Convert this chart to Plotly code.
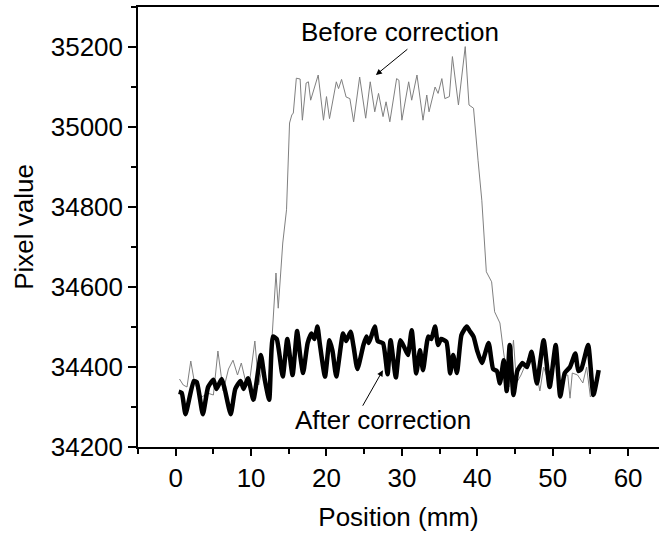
import plotly.graph_objects as go

before_x = [0.5, 1.0, 1.5, 2.0, 2.5, 3.0, 3.5, 4.2, 5.0, 5.6, 6.3, 7.0, 7.6, 8.2, 8.7, 9.2, 9.7,
            10.5, 11.0, 11.5, 12.2, 12.8, 13.3, 13.6, 14.2, 14.7, 15.1, 15.4, 15.6, 16.0, 16.5,
            16.8, 17.3, 17.6, 17.9, 18.9, 19.6, 20.0, 20.4, 21.3, 21.6, 22.0, 22.6, 23.1, 23.6,
            24.4, 25.2, 25.8, 26.4, 26.9, 27.5, 27.9, 28.4, 29.3, 29.6, 30.0, 30.9, 31.3, 32.0,
            32.8, 33.3, 33.6, 34.4, 34.8, 35.3, 35.7, 36.3, 36.7, 37.5, 38.4, 38.9, 39.5, 40.1,
            40.6, 41.2, 41.9, 42.3, 43.0, 43.5, 43.8, 44.2, 44.8, 45.2, 45.8, 46.5, 47.2, 47.7,
            48.3, 48.8, 49.5, 50.4, 51.0, 51.6, 52.0, 52.3, 52.6, 53.3, 54.0, 54.5, 55.0, 55.5,
            56.1]
before_y = [34370, 34355, 34350, 34415, 34360, 34340, 34325, 34335, 34330, 34440, 34340, 34395,
            34417, 34380, 34410, 34370, 34350, 34465, 34355, 34400, 34340, 34480, 34635, 34547,
            34710, 34793, 35010, 35030, 35035, 35122, 35120, 35017, 35110, 35113, 35067, 35130,
            35017, 35076, 35021, 35113, 35096, 35119, 35075, 35071, 35013, 35125, 35022, 35113,
            35038, 35084, 35026, 35063, 35013, 35121, 35117, 35017, 35113, 35067, 35130, 35017,
            35080, 35038, 35100, 35084, 35121, 35071, 35076, 35176, 35055, 35201, 35055, 35047,
            34917, 34817, 34638, 34613, 34538, 34510, 34435, 34400, 34350, 34467, 34360, 34380,
            34410, 34442, 34400, 34340, 34400, 34360, 34440, 34340, 34380, 34380, 34322, 34385,
            34380, 34360, 34400, 34325, 34340, 34392]

after_x = [0.4, 0.8, 1.3, 2.4, 2.8, 3.6, 4.3, 5.0, 5.4, 6.1, 6.5, 7.3, 7.9, 8.6, 9.0, 9.6, 10.3,
           11.3, 11.8, 12.4, 12.9, 13.4, 14.2, 14.8, 15.5, 16.1, 16.5, 16.9, 17.5, 18.0, 18.4,
           18.8, 19.1, 19.8, 20.4, 20.8, 21.3, 22.2, 22.6, 23.2, 23.6, 24.1, 24.9, 25.3, 25.6,
           26.0, 26.4, 26.8, 27.5, 28.1, 28.5, 29.2, 29.8, 30.3, 30.8, 31.3, 31.9, 32.4, 32.8,
           33.5, 33.9, 34.4, 34.8, 35.2, 35.9, 36.4, 36.8, 37.3, 37.9, 38.6, 39.0, 39.5, 40.0,
           40.6, 41.5, 42.1, 42.6, 43.0, 43.5, 43.9, 44.3, 44.8, 45.3, 45.6, 46.0, 46.6, 47.2,
           47.9, 48.8, 49.6, 50.4, 51.0, 51.6, 52.3, 53.0, 53.4, 53.8, 54.7, 55.4, 56.1]
after_y = [34338, 34335, 34282, 34365, 34362, 34282, 34350, 34368, 34345, 34370, 34345, 34282,
           34345, 34365, 34345, 34372, 34318, 34430, 34370, 34318, 34476, 34470, 34376, 34470,
           34380, 34490, 34430, 34385, 34460, 34484, 34470, 34501, 34460, 34376, 34467, 34440,
           34376, 34484, 34465, 34488, 34450, 34395, 34455, 34476, 34460, 34480, 34501, 34465,
           34459, 34382, 34467, 34374, 34467, 34450, 34430, 34492, 34384, 34442, 34392, 34476,
           34470, 34501, 34455, 34470, 34463, 34384, 34430, 34385, 34480, 34501, 34490, 34476,
           34440, 34410, 34460, 34395, 34390, 34359, 34417, 34340, 34455, 34330, 34390, 34400,
           34410, 34400, 34438, 34359, 34467, 34350, 34455, 34326, 34385, 34400, 34434, 34390,
           34395, 34455, 34330, 34392]

x_ticks = [0, 10, 20, 30, 40, 50, 60]
y_ticks = [34200, 34400, 34600, 34800, 35000, 35200]

FONT = "Liberation Sans, Arial, sans-serif"
FS = 26

fig = go.Figure()
fig.add_trace(go.Scatter(x=before_x, y=before_y, mode="lines",
                         line=dict(color="#808080", width=1), name="Before correction"))
fig.add_trace(go.Scatter(x=after_x, y=after_y, mode="lines",
                         line=dict(color="black", width=4.5, shape="spline", smoothing=0.5),
                         name="After correction"))

fig.add_annotation(x=26.55, y=35130, ax=33, ay=-27, showarrow=True, arrowhead=2,
                   arrowsize=1.2, arrowwidth=1, arrowcolor="black", text="")
fig.add_annotation(x=27.48, y=34392, ax=-21, ay=37, showarrow=True, arrowhead=2,
                   arrowsize=1.2, arrowwidth=1, arrowcolor="black", text="")
fig.add_annotation(x=(400 - 176) / 7.533, y=34200 + (447 - 32) / 0.4, text="Before correction",
                   showarrow=False, font=dict(family=FONT, size=FS, color="black"))
fig.add_annotation(x=(383 - 176) / 7.533, y=34200 + (447 - 420) / 0.4, text="After correction",
                   showarrow=False, font=dict(family=FONT, size=FS, color="black"))

fig.update_layout(
    width=659, height=534,
    margin=dict(l=138, r=0, t=7, b=87),
    paper_bgcolor="white", plot_bgcolor="white",
    showlegend=False,
    font=dict(family=FONT, size=FS, color="black"),
)
fig.update_xaxes(
    range=[-5, 64.1], tickvals=x_ticks, ticktext=[str(v) for v in x_ticks],
    ticks="outside", ticklen=7, tickwidth=1.5, automargin=False,
    tickcolor="black", showline=True, linecolor="black", linewidth=1.5, mirror=True,
    showgrid=False, zeroline=False,
    minor=dict(dtick=5, tick0=0, ticks="outside", ticklen=5, tickwidth=1.5, tickcolor="black"),
    tickfont=dict(family=FONT, size=FS),
    title=dict(text="Position (mm)", font=dict(family=FONT, size=FS), standoff=16),
)
fig.update_yaxes(
    range=[34200, 35300], tickvals=y_ticks, ticktext=[str(v) for v in y_ticks],
    ticks="outside", ticklen=8, tickwidth=1.5, automargin=False,
    tickcolor="black", showline=True, linecolor="black", linewidth=1.5, mirror=False,
    showgrid=False, zeroline=False,
    minor=dict(dtick=100, tick0=34200, ticks="outside", ticklen=5, tickwidth=1.5, tickcolor="black"),
    tickfont=dict(family=FONT, size=FS),
    title=dict(text="Pixel value", font=dict(family=FONT, size=FS), standoff=10),
)

fig.write_html("out.html", config={"displayModeBar": False},
               post_script="document.body.style.margin='0';")
